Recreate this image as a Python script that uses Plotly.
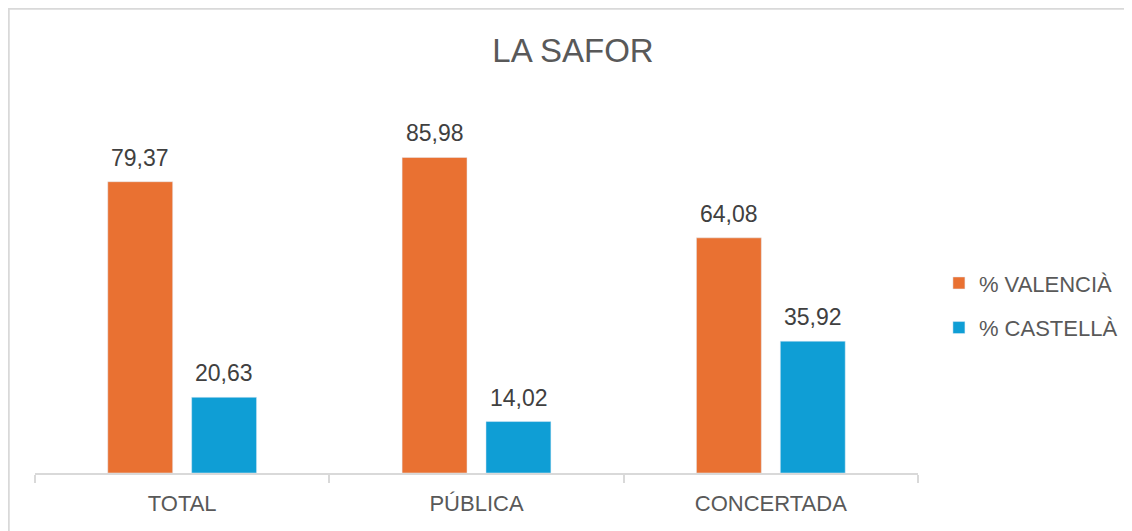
import plotly.graph_objects as go

categorias = ["TOTAL", "PÚBLICA", "CONCERTADA"]
valencia = [79.37, 85.98, 64.08]
castella = [20.63, 14.02, 35.92]

FONT = "Liberation Sans"

fig = go.Figure()
series = [("% VALENCIÀ", valencia, "#E97132", -42), ("% CASTELLÀ", castella, "#0F9ED5", 42)]
for nom, vals, color, desplac in series:
    fig.add_trace(go.Bar(name=nom, x=categorias, y=vals, marker_color=color,
                         legendgroup=nom))
    # etiquetes de dades damunt de cada barra
    for cat, v in zip(categorias, vals):
        fig.add_annotation(x=cat, y=v, xshift=desplac, yshift=9, yanchor="bottom",
                           text=f"{v:.2f}".replace(".", ","), showarrow=False,
                           font=dict(size=23, color="#404040", family=FONT))

# la pagina te 8px de marge al body: area del grafic en coordenades de la figura 27-910 x 98-465
def px_x(p):
    return (p - 27) / 883


def px_y(p):
    return (465 - p) / 367


frame = [
    (px_x(0), px_y(0.5), px_x(1132), px_y(0.5)),
    (px_x(0.5), px_y(0), px_x(0.5), px_y(531)),
]
shapes = [dict(type="line", xref="paper", yref="paper", x0=a, y0=b, x1=c, y1=d,
               line=dict(color="#d9d9d9", width=2.5)) for a, b, c, d in frame]

fig.update_layout(
    width=1132, height=531,
    margin=dict(l=27, r=222, t=98, b=66, autoexpand=False),
    paper_bgcolor="white", plot_bgcolor="white",
    barmode="group", bargap=0.43, bargroupgap=0.226,
    title=dict(text="LA SAFOR", x=565 / 1132, xref="container", xanchor="center",
               y=1 - 42 / 531, yref="container", yanchor="middle",
               font=dict(size=33, color="#595959", family=FONT)),
    font=dict(family=FONT, color="#595959", size=22),
    legend=dict(x=1.0237, y=0.456, xanchor="left", yanchor="middle",
                font=dict(size=22, color="#595959", family=FONT),
                itemwidth=30, tracegroupgap=13, traceorder="grouped"),
    showlegend=True,
    shapes=shapes,
)
fig.update_xaxes(
    showline=True, linecolor="#d9d9d9", linewidth=1.5,
    ticks="outside", tickson="boundaries", ticklen=8, tickcolor="#d9d9d9", tickwidth=1.5,
    tickfont=dict(size=22, color="#595959", family=FONT), ticklabelstandoff=10,
    showgrid=False,
)
fig.update_yaxes(range=[0, 100], visible=False, showgrid=False)

fig.write_html("out.html")
